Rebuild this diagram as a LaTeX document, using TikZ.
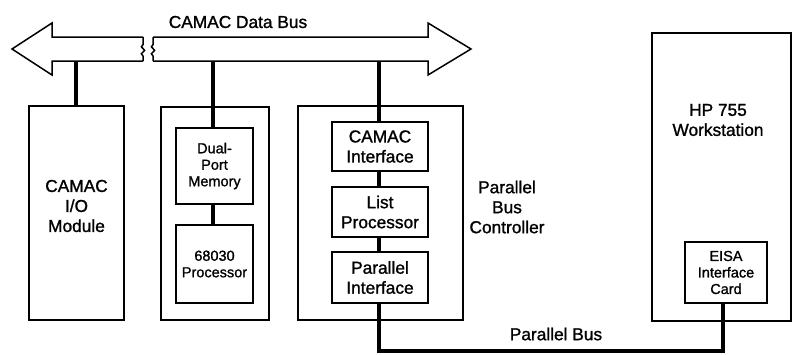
\documentclass[tikz,border=0pt]{standalone}
\usepackage{fontspec}
\setmainfont{Liberation Sans}[FakeBold=1.2]
\usetikzlibrary{decorations.pathmorphing}
\begin{document}
\begin{tikzpicture}[x=1pt,y=-1pt,
  box/.style={draw, line width=1.4pt, inner sep=0pt, align=center},
  bigtxt/.style={align=center, inner sep=0pt, font=\fontsize{17.3}{20}\selectfont},
  smalltxt/.style={font=\fontsize{14.5}{16.5}\selectfont},
  conn/.style={line width=3.4pt},
  busline/.style={line width=1.5pt, line join=miter},
  breakline/.style={line width=1.5pt, decorate,
    decoration={snake, amplitude=1.6pt, segment length=7pt, pre length=5pt, post length=5pt}}]
\useasboundingbox (0,0) rectangle (793,354);

% CAMAC data bus (double arrow, broken near the left end)
\draw[busline] (143,37) -- (52,37) -- (52,23) -- (12,49) -- (52,75) -- (52,61) -- (143,61);
\draw[breakline] (143,61) -- (143,37);
\draw[busline] (153,37) -- (428,37) -- (428,23) -- (471,49) -- (428,75) -- (428,61) -- (153,61);
\draw[breakline] (153,61) -- (153,37);
\node[bigtxt] (buslbl) at (238,22) {CAMAC Data Bus};
\coordinate (tapio)  at (76,61);
\coordinate (tapmem) at (213,61);
\coordinate (tappbc) at (379,61);

% CAMAC I/O module
\node[box, minimum width=95, minimum height=214] (io) at (76.5,213) {};
\node[bigtxt] (iotxt) at (76.5,206) {CAMAC\\I/O\\Module};

% Dual-port memory and 68030 processor
\node[box, minimum width=108, minimum height=213] (mem) at (215,213.5) {};
\node[box, smalltxt, minimum width=77, minimum height=76] (dpm) at (214.5,166) {Dual-\\Port\\Memory};
\node[box, smalltxt, minimum width=77, minimum height=78] (cpu) at (214.5,264) {68030\\Processor};

% Parallel bus controller
\node[box, minimum width=165, minimum height=214] (pbc) at (380.5,213) {};
\node[box, bigtxt, minimum width=96, minimum height=49] (cif) at (380,146.5) {CAMAC\\Interface};
\node[box, bigtxt, minimum width=96, minimum height=50] (lp)  at (380,212) {List\\Processor};
\node[box, bigtxt, minimum width=96, minimum height=51] (pif) at (380,277.5) {Parallel\\Interface};
\node[bigtxt] (pbctxt) at (507,207) {Parallel\\Bus\\Controller};

% HP 755 workstation
\node[box, minimum width=139, minimum height=288] (ws) at (721.5,177) {};
\node[bigtxt] (wstxt) at (718,120) {HP 755\\Workstation};
\node[box, smalltxt, minimum width=82, minimum height=61] (eisa) at (726,272.5) {EISA\\Interface\\Card};

% Connections
\draw[conn] (tapio) -- (io.north -| tapio);
\draw[conn] (tapmem) -- (dpm.north -| tapmem);
\draw[conn] (dpm.south -| tapmem) -- (cpu.north -| tapmem);
\draw[conn] (tappbc) -- (cif.north -| tappbc);
\draw[conn] (cif.south -| tappbc) -- (lp.north -| tappbc);
\draw[conn] (lp.south -| tappbc) -- (pif.north -| tappbc);
\coordinate (pbl) at (379,351);
\coordinate (pbr) at (723,351);
\draw[conn, line join=miter] (pif.south -| tappbc) -- (pbl) -- (pbr) -- (eisa.south -| pbr);
\node[bigtxt] (pbtxt) at (556,334) {Parallel Bus};
\end{tikzpicture}
\end{document}
